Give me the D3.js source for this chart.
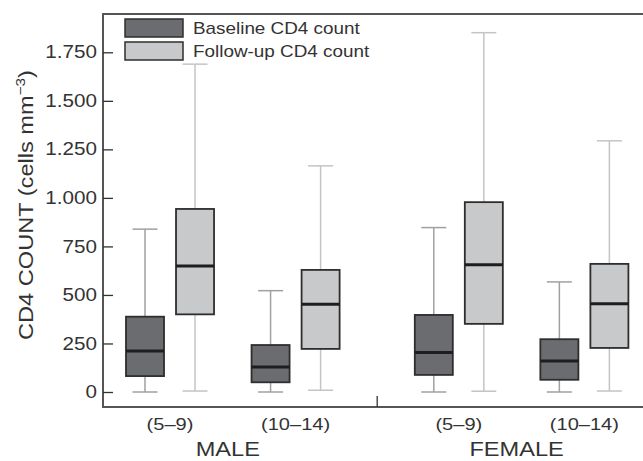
<!DOCTYPE html>
<html>
<head>
<script src="https://d3js.org/d3.v7.min.js"></script>
<style>
body { margin: 0; background: #fff; }
svg { display: block; font-family: "Liberation Sans", Arial, sans-serif; }
</style>
</head>
<body>
<div id="canvas"></div>
<script>
// data (cells per mm^3)
var sexes = ["MALE", "FEMALE"];
var ageGroups = ["(5\u20139)", "(10\u201314)"];
var seriesNames = ["Baseline CD4 count", "Follow-up CD4 count"];
var yTicks = [0, 250, 500, 750, 1000, 1250, 1500, 1750];
var yTickLabels = ["0", "250", "500", "750", "1.000", "1.250", "1.500", "1.750"];

// one row per box: [min, q1, median, q3, max]
var maleBaseline  = [[0, 82, 211, 388, 839], [0, 50, 129, 242, 522]];
var maleFollowup  = [[5, 400, 649, 943, 1689], [9, 222, 452, 629, 1165]];
var femaleBaseline = [[0, 88, 203, 397, 847], [0, 63, 160, 272, 567]];
var femaleFollowup = [[4, 351, 655, 978, 1851], [5, 227, 454, 660, 1294]];

var width = 643, height = 461;
var plotLeft = 103, plotTop = 14, plotBottom = 407;
var stretch = 1.18; // the original lettering is wider than Liberation Sans
var textColor = "#333";

var boxes = [];
[[maleBaseline, maleFollowup], [femaleBaseline, femaleFollowup]].forEach(function(pair, si) {
    ageGroups.forEach(function(age, ai) {
        pair.forEach(function(vals, ki) {
            var v = vals[ai];
            boxes.push({sex: sexes[si], age: age, series: seriesNames[ki], k: ki,
                        min: v[0], q1: v[1], med: v[2], q3: v[3], max: v[4]});
        });
    });
});

var svg = d3.select("#canvas").append("svg")
    .attr("width", width).attr("height", height);

var y = d3.scaleLinear().domain([0, 1750]).range([392, 52.3]);
var xSex = d3.scaleBand().domain(sexes).range([88.4, 666]);
var xAge = d3.scaleBand().domain(ageGroups).range([0, xSex.bandwidth()]).paddingOuter(0.15);
var xSeries = d3.scaleBand().domain(seriesNames).range([0, xAge.bandwidth()])
    .paddingInner(0.24).paddingOuter(0.375);

var fills = ["#6b6c6f", "#c8c9cb"];
var whisk = ["#a0a0a0", "#c4c4c4"];

function label(x, yy, txt, size, anchor) {
    return svg.append("text")
        .attr("transform", "translate(" + x + "," + yy + ") scale(" + stretch + ",1)")
        .attr("text-anchor", anchor || "start")
        .attr("font-size", size + "px").attr("fill", textColor)
        .text(txt);
}

// frame
svg.append("line").attr("x1", plotLeft).attr("x2", width).attr("y1", plotTop).attr("y2", plotTop)
    .attr("stroke", "#555").attr("stroke-width", 2);
svg.append("line").attr("x1", plotLeft).attr("x2", width).attr("y1", plotBottom).attr("y2", plotBottom)
    .attr("stroke", "#555").attr("stroke-width", 2);
svg.append("line").attr("x1", plotLeft).attr("x2", plotLeft).attr("y1", plotTop - 1).attr("y2", plotBottom + 1)
    .attr("stroke", "#555").attr("stroke-width", 2);

// y axis (ticks pointing inward)
var yAxis = d3.axisRight(y).tickValues(yTicks)
    .tickFormat(function(d, i) { return yTickLabels[i]; })
    .tickSize(10);
var ga = svg.append("g").attr("transform", "translate(" + plotLeft + ",0)").call(yAxis);
ga.select(".domain").remove();
ga.selectAll(".tick line").attr("stroke", "#333").attr("stroke-width", 1.3);
ga.selectAll(".tick text")
    .attr("x", 0)
    .attr("transform", "translate(-6,0) scale(" + stretch + ",1)")
    .attr("text-anchor", "end")
    .attr("font-size", "17.5px").attr("fill", textColor)
    .style("font-family", "'Liberation Sans', Arial, sans-serif");

// separator tick between groups
var sep = (xSex("MALE") + xSex.bandwidth() + xSex("FEMALE")) / 2;
svg.append("line").attr("x1", sep).attr("x2", sep).attr("y1", plotBottom - 11).attr("y2", plotBottom)
    .attr("stroke", "#333").attr("stroke-width", 1.3);

// y title
svg.append("text")
    .attr("transform", "translate(33,205) rotate(-90) scale(" + stretch + ",1)")
    .attr("text-anchor", "middle").attr("font-size", "20px").attr("fill", textColor)
    .html("CD4 COUNT (cells mm<tspan dy='-8' font-size='13px'>\u22123</tspan><tspan dy='8'>)</tspan>");

function bx(d) { return xSex(d.sex) + xAge(d.age) + xSeries(d.series); }
var bw = xSeries.bandwidth();
var capW = 25;

var g = svg.selectAll(".box").data(boxes).enter().append("g").attr("class", "box");
g.append("line")
    .attr("x1", function(d) { return bx(d) + bw / 2; })
    .attr("x2", function(d) { return bx(d) + bw / 2; })
    .attr("y1", function(d) { return y(d.min); })
    .attr("y2", function(d) { return y(d.max); })
    .attr("stroke", function(d) { return whisk[d.k]; }).attr("stroke-width", 1.5);
["min", "max"].forEach(function(key) {
    g.append("line")
        .attr("x1", function(d) { return bx(d) + bw / 2 - capW / 2; })
        .attr("x2", function(d) { return bx(d) + bw / 2 + capW / 2; })
        .attr("y1", function(d) { return y(d[key]); })
        .attr("y2", function(d) { return y(d[key]); })
        .attr("stroke", function(d) { return whisk[d.k]; }).attr("stroke-width", 1.5);
});
g.append("rect")
    .attr("x", bx).attr("width", bw)
    .attr("y", function(d) { return y(d.q3); })
    .attr("height", function(d) { return y(d.q1) - y(d.q3); })
    .attr("fill", function(d) { return fills[d.k]; })
    .attr("stroke", "#2e2e2e").attr("stroke-width", 1.8);
g.append("line")
    .attr("x1", bx).attr("x2", function(d) { return bx(d) + bw; })
    .attr("y1", function(d) { return y(d.med); })
    .attr("y2", function(d) { return y(d.med); })
    .attr("stroke", "#1e1e1e").attr("stroke-width", 3);

// category labels
sexes.forEach(function(s) {
    ageGroups.forEach(function(a) {
        label(xSex(s) + xAge(a) + xAge.bandwidth() / 2, 430, a, 17, "middle");
    });
    label(xSex(s) + xSex.bandwidth() / 2 - 5, 456, s, 20, "middle");
});

// legend
var leg = svg.append("g").attr("transform", "translate(125,19)");
seriesNames.forEach(function(n, i) {
    leg.append("rect").attr("x", 0).attr("y", i * 23).attr("width", 58).attr("height", 18)
        .attr("fill", fills[i]).attr("stroke", "#2e2e2e").attr("stroke-width", 1.5);
    leg.append("text")
        .attr("transform", "translate(68," + (i * 23 + 15) + ") scale(" + stretch + ",1)")
        .attr("font-size", "16px").attr("fill", textColor).text(n);
});
</script>
</body>
</html>
